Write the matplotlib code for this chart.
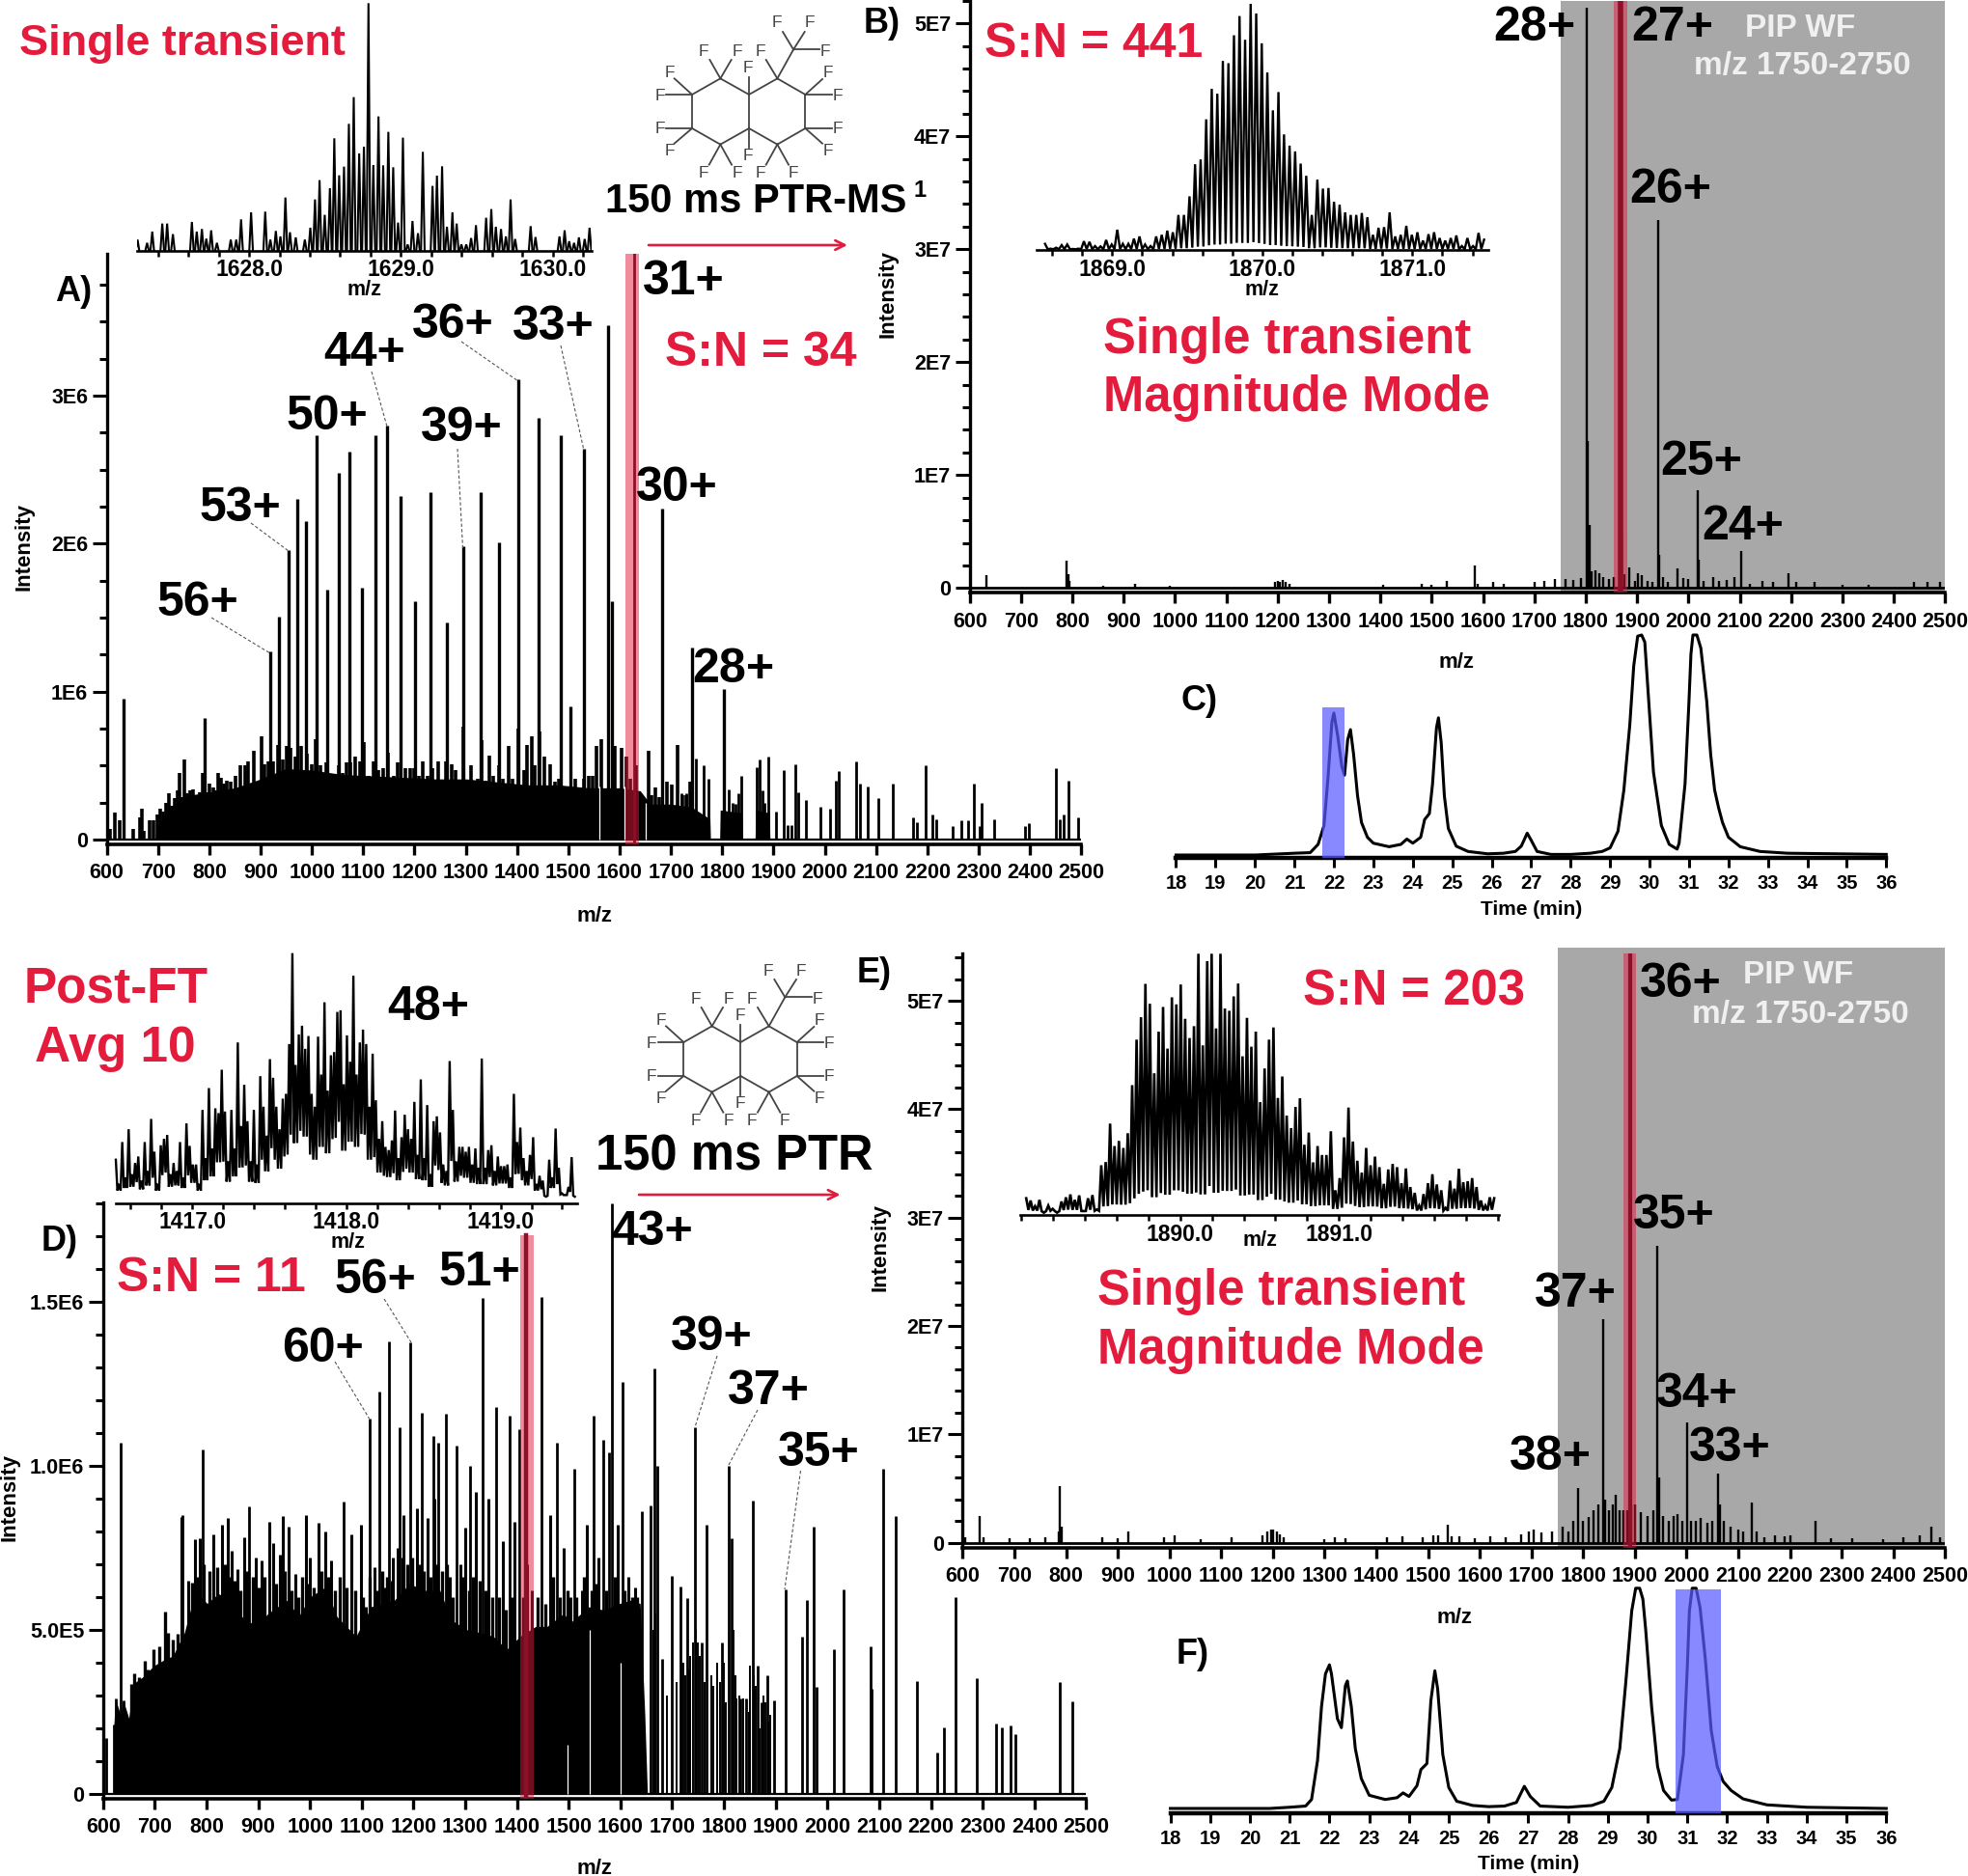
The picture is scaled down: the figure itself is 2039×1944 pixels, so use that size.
import numpy as np
import matplotlib
matplotlib.use('Agg')
import matplotlib.pyplot as plt

W, H = 2040, 1944
plt.rcParams['font.family'] = ['Liberation Sans', 'DejaVu Sans']
plt.rcParams['font.weight'] = 'bold'

RED = '#E31B3C'
BLUE = '#5a5aff'
GREY = '#A8A8A9'

# panel A, intensity in 1E6
peaks_a = [(632, .95), (791, .82), (919.5, 1.27), (935, 1.51), (954, 1.96), (971, 2.30), (989, 2.15), (1009, 2.73),
           (1030, 1.69), (1052, 2.48), (1074, 2.62), (1098, 1.70), (1123, 2.73), (1147, 2.80), (1173, 2.32),
           (1201, 1.61), (1232, 2.35), (1263, 1.47), (1295, 1.98), (1329.5, 2.35), (1365, 2.01), (1403, 3.11),
           (1442, 2.85), (1485, 2.73), (1504.5, .90), (1530, 2.64), (1577, 3.48), (1585, 1.61), (1683, 2.24),
           (1742, 1.30), (1803, 1.02)]
grass_a = [(606, .07), (616, .18), (625, .13), (651, .07), (664, .15), (668, .21), (673, .06), (684, .13), (692, .13),
           (699, .17), (705, .21), (710, .19), (716, .25), (721, .31), (727, .23), (732, .28), (738, .33), (741, .45),
           (745, .29), (751, .54), (757, .31), (763, .33), (769, .34), (776, .26), (782, .32), (787, .45), (796, .32),
           (801, .38), (807, .35), (812, .33), (817, .45), (823, .42), (829, .38), (835, .40), (842, .39), (851, .43),
           (857, .34), (861, .50), (869, .50), (876, .53), (886, .60), (892, .37), (901, .70), (907, .51), (915, .53),
           (924, .53), (933, .64), (943, .54), (950, .63), (959, .62), (968, .56), (979, .63), (991, .58), (1000, .51),
           (1008, .68), (1017, .50), (1028, .52), (1041, .44), (1052, .50), (1060, .45), (1067, .52), (1075, .52),
           (1085, .56), (1093, .53), (1101, .66), (1110, .43), (1120, .53), (1129, .47), (1138, .48), (1149, .59),
           (1159, .43), (1168, .52), (1182, .48), (1191, .48), (1200, .48), (1209, .43), (1217, .53), (1226, .43),
           (1235, .48), (1246, .53), (1253, .39), (1262, .53), (1272, .51), (1281, .47), (1296, .76), (1305, .34),
           (1311, .50), (1324, .41), (1331, .67), (1339, .40), (1346, .57), (1354, .43), (1365, .50), (1372, .41),
           (1383, .63), (1391, .41), (1402, .75), (1413, .47), (1420, .64), (1428, .70), (1435, .50), (1443, .73),
           (1454, .56), (1465, .51), (1473, .39), (1481, .41), (1493, .35), (1513, .41), (1521, .34), (1531, .41),
           (1540, .43), (1547, .43), (1554, .63), (1564, .68), (1590, .63), (1603, .62), (1613, .56), (1621, .41),
           (1632, .50), (1644, .27), (1651, .18), (1656, .60), (1662, .30), (1670, .35), (1677, .29), (1692, .39),
           (1702, .37), (1712, .64), (1722, .30), (1729, .30), (1737, .39)]
tail_a = [(1720, .31), (1729, .31), (1748.6, .55), (1763.5, .50), (1773, .41), (1812, .34), (1820, .25), (1826, .24),
          (1832, .31), (1838, .43), (1867, .49), (1872, .54), (1878, .33), (1883, .25), (1890, .56), (1904, .19),
          (1919, .47), (1927, .10), (1935, .10), (1943, .51), (1948, .32), (1963.6, .27), (1991.5, .22), (2009.6, .21),
          (2020.6, .40), (2027.7, .46), (2060.8, .53), (2068, .38), (2083, .36), (2104, .28), (2133, .38), (2171.5, .15),
          (2178.7, .12), (2196.8, .50), (2210.4, .17), (2217, .14), (2249, .09), (2265.5, .13), (2278.4, .13), (2291, .38),
          (2301.7, .09), (2306, .25), (2330, .14), (2390, .09), (2397.6, .11), (2451, .48), (2457.8, .14), (2466, .17),
          (2474.7, .40), (2494.7, .15)]
floor_a = [(695, 0), (696, .07), (710, .15), (730, .24), (760, .3), (800, .32), (850, .35), (900, .41), (950, .48),
           (1000, .47), (1060, .44), (1120, .43), (1180, .42), (1240, .41), (1300, .41), (1360, .39), (1420, .37),
           (1480, .37), (1540, .35), (1600, .35), (1640, .33), (1660, .24), (1700, .24), (1740, .22), (1776, .14),
           (1777, 0), (1795, 0), (1796, .2), (1838, .18), (1840, 0), (1864, 0), (1865, .2), (1892, .18), (1893, 0)]
gaps_a = [(1560, .36), (1609, .36), (1650, .25)]

# panel D, intensity in 1E6
peaks_d = [(606, .17), (621, .21), (624, .29), (634, 1.07), (639, .285), (753, .85), (792, 1.05), (883, .875),
           (1065, .89), (1115.7, 1.145), (1134, 1.227), (1153, 1.38), (1174, 1.117), (1194.5, 1.377), (1216, 1.16),
           (1238, 1.09), (1248, 1.07), (1262, 1.157), (1284, 1.06), (1310, 1.0), (1334, 1.51), (1359, 1.18),
           (1386, 1.153), (1404, 1.11), (1447, 1.515), (1477, 1.07), (1511, .99), (1547.5, 1.153), (1566, 1.08),
           (1578, 1.04), (1584, 1.80), (1604.5, 1.254), (1641, .86), (1659, .88), (1665, 1.296), (1671, 1.0),
           (1680, .41), (1700, .664), (1715, .633), (1729, .596), (1744, 1.117), (1757, .46), (1767, .82), (1796, .46),
           (1809, 1.0), (1814, .78), (1832, .29), (1842, .29), (1855.6, .894), (1866, .39), (1872, .28), (1883, .36),
           (1897, .285), (1919, .623), (1950, .48), (1960, .59), (1973.5, .815), (1978, .325), (2013, .44),
           (2031.5, .623), (2082.5, .45), (2085, .32), (2107, .99), (2132.5, .846), (2172, .344), (2212, .126),
           (2224.5, .203), (2247.5, .6), (2289, .353), (2325, .214), (2337, .203), (2353.4, .207), (2363, .183),
           (2448.4, .34), (2473, .283)]
grass_d = [(752, .845), (764.5, .65), (777.7, .776), (786.6, .78), (812.4, .79), (829.4, .82), (840.4, .84),
           (849.3, .74), (858.9, .686), (872.9, .783), (895.8, .72), (906.8, .712), (921.5, .83), (929, .765),
           (941.5, .73), (946.6, .847), (959, .814), (971, .67), (991.6, .85), (1000.4, .72), (1016.7, .826),
           (1030, .80), (1041, .71), (1079.3, .79), (1098, .82), (1108, .57), (1125, .69), (1143, .63), (1161, .72),
           (1170, .75), (1181, .85), (1206, .87), (1227, .84), (1240, .90), (1270, .66), (1290, .70), (1300, .81),
           (1320, .92), (1345, .90), (1372, .77), (1395, .83), (1420, .70), (1428, .62), (1465, .85), (1490, .75),
           (1503, .60), (1525, .62), (1535, .82), (1558, .72), (1595, .82), (1615, .66), (1628, .63)]
tail_d = [(1722, .40), (1735, .42), (1741, .46), (1750, .46), (1780, .33), (1787, .40), (1803, .28), (1825, .29),
          (1850, .39), (1858, .36), (1862, .33), (1877, .30), (1890, .24), (1664, .5), (1668, .55), (1690, .3),
          (1708, .34), (1718, .4), (1726, .36), (1733, .38), (1746, .5), (1753, .42), (1763, .34), (1775, .36),
          (1792, .34), (1800, .4), (1818, .5), (1822, .36), (1829, .3), (1838, .29), (1848, .25), (1869, .2),
          (1880, .28), (1886, .22)]
fill_d = [(655, .335), (661, .367), (670, .355), (680, .406), (687, .38), (698, .44), (709, .45), (720, .556), (726, .49),
          (735, .47), (744, .487), (772, .644), (782, .66), (795, .7), (805, .68), (820, .69), (835, .7), (845, .66),
          (854, .65), (865, .62), (878, .68), (890, .66), (900, .63), (912, .66), (935, .64), (952, .68), (965, .62),
          (978, .60), (985, .66), (996, .64), (1008, .63), (1023, .68), (1035, .66), (1048, .62), (1058, .66),
          (1070, .63), (1088, .62), (1103, .6), (1115, .66), (1130, .62), (1140, .68), (1148, .66), (1158, .65),
          (1178, .72), (1188, .7), (1198, .72), (1212, .7), (1220, .68), (1233, .66), (1245, .7), (1255, .68),
          (1265, .7), (1276, .6), (1296, .66), (1307, .62), (1315, .66), (1328, .65), (1340, .62), (1352, .6),
          (1365, .6), (1378, .56), (1390, .6), (1412, .6), (1440, .6), (1455, .58), (1470, .66), (1483, .6),
          (1497, .62), (1515, .6), (1530, .66), (1545, .62), (1552, .64), (1572, .62), (1590, .66), (1608, .62),
          (1622, .6), (1632, .6)]
floor_d = [(620, 0), (621, .21), (624, .29), (634, .24), (639, .286), (650, .23), (658, .335), (676, .355), (698, .39),
           (720, .41), (735, .42), (757, .49), (779, .62), (801, .58), (823, .61), (846, .59), (868, .54), (897, .51),
           (919, .55), (956, .59), (978, .54), (1000, .6), (1030, .63), (1052, .54), (1089, .48), (1118, .57),
           (1163, .59), (1192, .64), (1222, .62), (1251, .62), (1273, .53), (1303, .50), (1332, .49), (1354, .48),
           (1380, .44), (1406, .48), (1436, .51), (1458, .51), (1491, .55), (1502, .52), (1539, .57), (1568, .56),
           (1598, .58), (1620, .59), (1638, .58), (1647, .24), (1652, 0)]
gaps_d = [(1497, .15), (1541, .5), (1601, .4)]

# panels B and E, intensity in 1E7
peaks_b = [(632.8, .115), (788.6, .245), (792, .12), (795, .06), (860, .02), (922, .04), (990, .02), (1195, .05),
           (1200, .06), (1205, .05), (1210, .07), (1215, .05), (1222, .04), (1405, .03), (1480, .04), (1500, .03),
           (1530, .06), (1583, .2), (1590, .04), (1620, .05), (1640, .04), (1700, .05), (1720, .06), (1740, .08),
           (1760, .08), (1775, .07), (1790, .09), (1801.5, 5.14), (1804, 1.3), (1807, .56), (1812, .15), (1818, .157),
           (1826, .13), (1834, .1), (1845, .08), (1855, .1), (1870, .47), (1875, .12), (1885, .18), (1895, .06),
           (1902, .13), (1910, .11), (1920, .06), (1930, .05), (1941, 3.26), (1943.7, .29), (1950, .1), (1960, .05),
           (1979, .17), (1990, .09), (2000, .08), (2017.5, .87), (2020, .25), (2030, .06), (2048, .1), (2060, .06),
           (2075, .07), (2090, .1), (2103.6, .33), (2120, .04), (2145, .06), (2165, .05), (2194, .13), (2210, .05),
           (2245, .05), (2300, .03), (2350, .03), (2440, .05), (2465, .05), (2490, .05)]
peaks_e = [(605, .05), (632.6, .25), (640, .05), (690, .04), (730, .04), (760, .05), (785, .1), (788.6, .52), (792, .15),
           (870, .05), (900, .04), (920, .1), (990, .05), (1010, .07), (1060, .03), (1120, .05), (1180, .07), (1190, .1),
           (1197, .12), (1201, .12), (1207, .1), (1213, .08), (1220, .05), (1300, .03), (1320, .05), (1340, .04),
           (1420, .05), (1450, .06), (1490, .05), (1510, .07), (1520, .07), (1539, .165), (1545, .06), (1560, .06),
           (1590, .04), (1620, .06), (1650, .05), (1680, .08), (1695, .1), (1705, .12), (1720, .09), (1740, .1),
           (1760, .15), (1772, .1), (1780, .2), (1790, .5), (1800, .2), (1810, .24), (1820, .3), (1830, .35),
           (1839, 2.06), (1842, .4), (1850, .3), (1857, .35), (1863.6, .44), (1870, .3), (1878, .3), (1885, .3),
           (1893, .35), (1900, .35), (1912, .28), (1925, .25), (1935, .3), (1943.6, 2.74), (1946, .6), (1955, .25),
           (1965, .2), (1975, .25), (1983, .26), (1992, .2), (2000.6, 1.11), (2008, .2), (2018, .2), (2028, .23),
           (2040, .18), (2050, .2), (2061.7, .64), (2065, .35), (2072, .2), (2085, .15), (2100, .12), (2110, .1),
           (2125.5, .37), (2135, .1), (2150, .05), (2170, .07), (2190, .06), (2200, .07), (2249, .2), (2280, .04),
           (2320, .04), (2380, .03), (2420, .05), (2450, .07), (2474, .15), (2490, .05)]

# insets, relative heights
inset_a = [(1627.265, 35), (1627.328, 25), (1627.362, 60), (1627.428, 85), (1627.460, 85), (1627.498, 52),
           (1627.623, 90), (1627.655, 60), (1627.689, 68), (1627.718, 38), (1627.750, 64), (1627.788, 25),
           (1627.879, 35), (1627.915, 35), (1627.947, 98), (1628.013, 120), (1628.106, 122), (1628.140, 35),
           (1628.176, 62), (1628.206, 45), (1628.239, 166), (1628.269, 58), (1628.307, 42), (1628.367, 35),
           (1628.403, 72), (1628.434, 160), (1628.464, 220), (1628.498, 112), (1628.532, 195), (1628.561, 350),
           (1628.593, 235), (1628.625, 262), (1628.657, 395), (1628.689, 478), (1628.725, 303), (1628.756, 324),
           (1628.786, 770), (1628.818, 267), (1628.852, 418), (1628.883, 266), (1628.917, 370), (1628.949, 260),
           (1628.981, 88), (1629.013, 352), (1629.044, 20), (1629.076, 93), (1629.112, 55), (1629.144, 308),
           (1629.208, 202), (1629.237, 234), (1629.271, 263), (1629.303, 75), (1629.339, 120), (1629.367, 85),
           (1629.398, 20), (1629.430, 20), (1629.462, 40), (1629.494, 80), (1629.561, 103), (1629.595, 130),
           (1629.625, 75), (1629.659, 68), (1629.691, 45), (1629.722, 160), (1629.752, 37), (1629.854, 77),
           (1629.886, 43), (1630.044, 45), (1630.078, 64), (1630.108, 30), (1630.140, 25), (1630.172, 42),
           (1630.210, 37), (1630.242, 72)]
inset_b = [20, 5, 8, 16, 18, 4, 5, 28, 26, 13, 12, 32, 18, 64, 20, 20, 36, 43, 18, 13, 43, 48, 61, 56,
           110, 110, 168, 268, 283, 408, 503, 488, 590, 583, 670, 730, 656, 768, 738, 645, 554, 436, 493, 361,
           326, 308, 270, 232, 110, 220, 192, 194, 151, 142, 118, 110, 110, 116, 103, 48, 70, 72, 118, 43, 48,
           76, 48, 56, 30, 50, 56, 38, 30, 38, 46, 13, 38, 13, 54, 33]
inset_d = [135, 60, 190, 80, 230, 90, 125, 145, 70, 190, 100, 262, 160, 60, 180, 200, 212, 90, 125, 100, 190, 80,
           248, 178, 120, 120, 60, 290, 140, 358, 170, 295, 280, 415, 285, 130, 290, 170, 500, 240, 368, 255, 130,
           290, 120, 395, 300, 210, 448, 390, 300, 230, 325, 340, 495, 778, 430, 525, 552, 480, 520, 340, 300, 518,
           400, 625, 350, 460, 470, 595, 600, 370, 522, 440, 708, 400, 500, 540, 495, 300, 465, 320, 200, 255, 175,
           165, 195, 288, 140, 205, 275, 230, 200, 315, 150, 385, 140, 305, 90, 255, 270, 220, 120, 100, 442, 290,
           130, 175, 175, 160, 175, 120, 170, 110, 450, 110, 165, 180, 100, 145, 115, 115, 120, 80, 340, 190, 235,
           140, 100, 150, 205, 60, 85, 70, 20, 135, 80, 232, 110, 30, 25, 50, 143, 20]
inset_e = [53, 46, 28, 48, 8, 30, 20, 8, 43, 56, 65, 48, 62, 13, 53, 63, 18,
           156, 166, 286, 216, 232, 210, 256, 406, 548, 618, 722, 660, 443, 573, 650, 520, 680, 658, 720, 613,
           553, 590, 816, 530, 793, 816, 583, 816, 645, 638, 683, 723, 496, 616, 526, 573, 353, 458, 548, 586,
           366, 433, 311, 272, 338, 365, 220, 258, 165, 216, 188, 188, 262, 78, 116, 243, 336, 230, 170, 133,
           210, 156, 183, 150, 98, 143, 160, 150, 100, 146, 88, 70, 30, 66, 100, 128, 96, 78, 23, 108,
           83, 145, 103, 106, 116, 88, 46, 30, 56, 53]

# chromatograms C and F
trace_c = [(18, 0), (20, 0), (21, 3), (21.4, 4), (21.6, 18), (21.75, 50), (21.85, 130), (21.95, 225), (22, 240),
           (22.1, 200), (22.2, 150), (22.27, 135), (22.35, 195), (22.42, 212), (22.5, 170), (22.6, 100), (22.7, 55),
           (22.85, 30), (23, 20), (23.4, 14), (23.7, 18), (23.85, 27), (24, 20), (24.2, 30), (24.3, 60), (24.42, 70),
           (24.5, 120), (24.6, 215), (24.65, 232), (24.72, 190), (24.8, 100), (24.9, 45), (25.1, 15), (25.4, 6),
           (25.9, 2), (26.3, 3), (26.6, 6), (26.75, 15), (26.9, 37), (27, 25), (27.15, 6), (27.5, 1), (28, 1),
           (28.5, 3), (28.8, 6), (29, 12), (29.2, 40), (29.35, 110), (29.5, 220), (29.6, 320), (29.7, 370), (29.8, 372),
           (29.88, 360), (29.95, 290), (30.1, 140), (30.3, 50), (30.5, 18), (30.7, 10), (30.75, 20), (30.9, 120),
           (31, 260), (31.05, 340), (31.1, 372), (31.2, 372), (31.3, 350), (31.45, 260), (31.55, 170), (31.65, 110),
           (31.75, 80), (31.85, 55), (32, 30), (32.3, 14), (32.8, 6), (33.5, 3), (36, 1)]
trace_f = [(18, 0), (20.5, 0), (21, 2), (21.4, 4), (21.55, 15), (21.7, 80), (21.8, 170), (21.9, 225), (22, 240),
           (22.05, 225), (22.2, 150), (22.3, 135), (22.4, 205), (22.45, 213), (22.55, 170), (22.65, 100), (22.8, 50),
           (23, 22), (23.4, 15), (23.7, 18), (23.85, 26), (24, 20), (24.2, 38), (24.3, 65), (24.45, 75), (24.55, 180),
           (24.65, 230), (24.72, 200), (24.85, 90), (25, 35), (25.2, 12), (25.6, 5), (26, 3), (26.4, 4), (26.7, 10),
           (26.9, 37), (27.05, 20), (27.3, 4), (28, 2), (28.6, 5), (28.9, 12), (29.1, 35), (29.3, 100), (29.45, 210),
           (29.6, 330), (29.7, 368), (29.8, 368), (29.88, 350), (29.95, 300), (30.1, 170), (30.25, 70), (30.4, 30),
           (30.6, 14), (30.75, 15), (30.9, 90), (31, 240), (31.05, 330), (31.12, 368), (31.22, 368), (31.32, 335),
           (31.45, 250), (31.6, 130), (31.75, 70), (31.9, 45), (32.1, 30), (32.4, 16), (33, 6), (34, 2), (36, 0)]

mz_ticks = list(range(600, 2501, 100))
time_ticks = list(range(18, 37))

# perfluorodecalin sketch, pixels of the copy next to panel D
ring_bonds = [((175, 300), (263, 250)), ((263, 250), (352, 300)), ((352, 300), (352, 405)), ((352, 405), (263, 455)),
              ((263, 455), (175, 405)), ((175, 405), (175, 300)), ((352, 300), (440, 250)), ((440, 250), (527, 300)),
              ((527, 300), (527, 405)), ((527, 405), (440, 455)), ((440, 455), (352, 405)), ((440, 250), (490, 160))]
f_bonds = [((490, 160), (457, 105)), ((490, 160), (525, 105)), ((490, 160), (572, 160)), ((440, 250), (405, 192)),
           ((352, 300), (352, 245)), ((263, 250), (230, 192)), ((263, 250), (297, 192)), ((175, 300), (120, 250)),
           ((175, 300), (95, 300)), ((175, 405), (95, 405)), ((175, 405), (120, 452)), ((263, 455), (228, 518)),
           ((263, 455), (298, 518)), ((352, 405), (352, 465)), ((440, 455), (405, 518)), ((440, 455), (475, 518)),
           ((527, 405), (580, 452)), ((527, 405), (610, 405)), ((527, 300), (610, 300)), ((527, 300), (580, 252))]
f_atoms = [(438, 78), (540, 78), (590, 165), (388, 165), (350, 218), (212, 165), (315, 165), (105, 232), (75, 303),
           (75, 405), (105, 475), (212, 545), (315, 545), (350, 490), (388, 545), (490, 545), (598, 475), (628, 405),
           (628, 303), (598, 232)]


def px_axes(fig, x0, x1, ytop, ybot, z=2):
    ax = fig.add_axes([x0 / W, 1 - ybot / H, (x1 - x0) / W, (ybot - ytop) / H], zorder=z)
    ax.patch.set_alpha(0)
    for s in ['top', 'right']:
        ax.spines[s].set_visible(False)
    return ax


def spectrum_axes(fig, x0, x1, ytop, yzero, scale, yticks, ylabels, minor):
    ybot = yzero + 5
    ax = px_axes(fig, x0, x1, ytop, ybot)
    ax.set_xlim(600, 2500)
    ax.set_ylim(-5 / scale, (yzero - ytop) / scale)
    ax.spines['left'].set_linewidth(2.4)
    ax.spines['bottom'].set_linewidth(2.6)
    ax.set_xticks(mz_ticks)
    ax.set_yticks(yticks)
    ax.set_yticklabels(ylabels)
    ax.set_yticks(np.arange(0, (yzero - ytop) / scale, minor), minor=True)
    ax.tick_params(axis='x', length=8, width=2.4, labelsize=15.5, pad=6)
    ax.tick_params(axis='y', length=11, width=2.2, labelsize=15.5, pad=3)
    ax.tick_params(axis='y', which='minor', length=6, width=2.2)
    return ax


def sticks(ax, pairs, lw=2.0, color='k', z=3):
    mz, h = zip(*pairs)
    ax.vlines(mz, 0, h, color=color, lw=lw, zorder=z)


def floor(ax, pairs, gaps=()):
    mz, h = zip(*pairs)
    ax.fill_between(mz, 0, h, color='k', lw=0, zorder=3)
    for g, top in gaps:
        ax.vlines(g, 0, top, color='white', lw=0.9, zorder=3.5)


def band(ax, lo, hi, center, center_lw):
    ax.axvspan(lo, hi, color=RED, alpha=0.5, lw=0, zorder=5)
    ax.axvline(center, color='#8c1028', lw=center_lw, zorder=5.5)


def inset_axes(fig, x0, x1, ytop, ybot, xlim, ylim, majors):
    ax = px_axes(fig, x0, x1, ytop, ybot, z=4)
    ax.spines['left'].set_visible(False)
    ax.spines['bottom'].set_linewidth(1.9)
    ax.set_xlim(*xlim)
    ax.set_ylim(0, ylim)
    ax.set_yticks([])
    ax.set_xticks(majors)
    ax.set_xticklabels(['%.1f' % m for m in majors])
    lo = np.ceil(xlim[0] / 0.2) * 0.2
    ax.set_xticks(np.arange(lo, xlim[1], 0.2), minor=True)
    ax.tick_params(axis='x', which='both', length=4, width=1.8)
    ax.tick_params(axis='x', which='major', labelsize=16.5, pad=2)
    return ax


def profile(ax, start, step, h, frac, base, lw):
    h = np.array(h, dtype=float)
    mz = start + step * np.arange(len(h))
    x = np.empty(2 * len(h) - 1)
    y = np.empty(2 * len(h) - 1)
    x[0::2] = mz
    y[0::2] = h
    x[1::2] = (mz[:-1] + mz[1:]) / 2
    y[1::2] = np.minimum(h[:-1], h[1:]) * frac + base
    ax.plot(x, y, color='k', lw=lw, solid_joinstyle='miter', clip_on=False)


def peaked(ax, pairs, half, lw):
    for m, v in pairs:
        ax.plot([m - half, m, m + half], [0, v, 0], color='k', lw=lw, solid_joinstyle='miter')


def chrom_axes(fig, x0, x1, ytop, ybase, yaxis, top_value, trace, box_lo, box_hi, box_top):
    ax = px_axes(fig, x0, x1, ytop, yaxis)
    ax.spines['left'].set_visible(False)
    ax.spines['bottom'].set_linewidth(3.2)
    scale = (ybase - ytop) / top_value
    ax.set_xlim(18, 36)
    ax.set_ylim(-(yaxis - ybase) / scale, top_value)
    ax.set_yticks([])
    ax.set_xticks(time_ticks)
    ax.tick_params(axis='x', length=7, width=2.2, labelsize=14.5, pad=5)
    t, h = zip(*trace)
    ax.plot(t, h, color='k', lw=2.2, clip_on=False, zorder=3)
    ax.fill_between([box_lo, box_hi], ax.get_ylim()[0], box_top, color=BLUE, alpha=0.72, lw=0, zorder=4)
    return ax


def molecule(ax0, dx, dy):
    for a, b in ring_bonds + f_bonds:
        ax0.plot([a[0] / 3 + dx, b[0] / 3 + dx], [a[1] / 3 + dy, b[1] / 3 + dy], color='#444444', lw=1.3)
    for x, y in f_atoms:
        ax0.text(x / 3 + dx, y / 3 + dy, 'F', fontsize=12.5, color='#444444', fontweight='normal',
                 ha='center', va='center')


fig = plt.figure(figsize=(W / 100, H / 100), dpi=100)

# A
ax = spectrum_axes(fig, 110.6, 1120.3, 263, 870, 153.3, [0, 1, 2, 3], ['0', '1E6', '2E6', '3E6'], 0.25)
floor(ax, floor_a, gaps_a)
sticks(ax, grass_a, lw=2.6)
sticks(ax, tail_a, lw=2.0)
sticks(ax, peaks_a, lw=2.4)
ax.axhline(0, color='k', lw=1.6, zorder=3)
band(ax, 1612, 1637, 1628, 2.0)

# B
ax = spectrum_axes(fig, 1004.7, 2015.3, 0.5, 609.3, 117.0, [0, 1, 2, 3, 4, 5], ['0', '1E7', '2E7', '3E7', '4E7', '5E7'], 0.2)
ax.axvspan(1752, 2500, color=GREY, lw=0, zorder=1)
sticks(ax, peaks_b, lw=1.7)
ax.axhline(0, color='k', lw=2.0, zorder=3)
band(ax, 1854.6, 1881, 1868, 4.0)

# D
ax = spectrum_axes(fig, 106.7, 1125.4, 1246.4, 1858.8, 340.0, [0, .5, 1, 1.5], ['0', '5.0E5', '1.0E6', '1.5E6'], 0.1)
floor(ax, floor_d, gaps_d)
sticks(ax, fill_d, lw=2.4)
sticks(ax, grass_d, lw=2.2)
sticks(ax, tail_d, lw=1.4)
sticks(ax, peaks_d, lw=2.0)
ax.axhline(0, color='k', lw=1.6, zorder=3)
ax.axvspan(1405.7, 1432, ymax=0.945, color=RED, alpha=0.5, lw=0, zorder=5)
ax.axvline(1418, ymax=0.945, color='#8c1028', lw=3.2, zorder=5.5)

# E
ax = spectrum_axes(fig, 997.4, 2015.3, 988, 1598.6, 112.3, [0, 1, 2, 3, 4, 5], ['0', '1E7', '2E7', '3E7', '4E7', '5E7'], 0.2)
ax.axvspan(1751, 2500, ymax=1.01, color=GREY, lw=0, zorder=1, clip_on=False)
sticks(ax, peaks_e, lw=1.7)
ax.axhline(0, color='k', lw=2.0, zorder=3)
band(ax, 1877, 1903, 1890.5, 3.0)

# insets
ax = inset_axes(fig, 141.7, 613, 3.3, 260, (1627.26, 1630.256), 770, [1628, 1629, 1630])
peaked(ax, inset_a, 0.012, 1.5)
ax = inset_axes(fig, 1074.3, 1541.7, 3.3, 259.3, (1868.498, 1871.504), 770, [1869, 1870, 1871])
profile(ax, 1868.552, 1 / 27, inset_b, 0.03, 3, 1.7)
ax = inset_axes(fig, 120, 598.3, 987, 1246.7, (1416.503, 1419.499), 780, [1417, 1418, 1419])
profile(ax, 1416.503, 1 / 48, inset_d, 0.4, 15, 1.7)
ax = inset_axes(fig, 1057.3, 1553.3, 987, 1259.3, (1888.996, 1892.008), 820, [1890, 1891])
profile(ax, 1889.032, 1 / 36, inset_e, 0.1, 12, 1.9)

# chromatograms
chrom_axes(fig, 1218.5, 1954.3, 658, 886, 889, 372, trace_c, 21.7, 22.27, 250)
chrom_axes(fig, 1212.6, 1954.3, 1645.8, 1874, 1879, 368, trace_f, 30.7, 31.84, 366)

# overlay in reference pixels, all free labels
ax0 = fig.add_axes([0, 0, 1, 1], zorder=10)
ax0.set_xlim(0, W)
ax0.set_ylim(H, 0)
ax0.axis('off')


def big(x, y, s, size=36, color='k'):
    ax0.text(x - 1, y - 2, s, fontsize=size, color=color, ha='left', va='center_baseline')


def small(x, y, s, rot=0, size=16):
    ax0.text(x, y, s, fontsize=size, ha='center', va='center', rotation=rot)


for x, y, s in [(667, 289, '31+'), (428, 334, '36+'), (532, 336, '33+'), (336, 363, '44+'), (297, 429, '50+'),
                (437, 441, '39+'), (207, 524, '53+'), (163, 622, '56+'), (660, 503, '30+'), (718, 691, '28+'),
                (1548.5, 26, '28+'), (1691, 26, '27+'), (1689, 194, '26+'), (1721.6, 476, '25+'), (1763.8, 543, '24+'),
                (402, 1041, '48+'), (347, 1324, '56+'), (455.4, 1316, '51+'), (634, 1274, '43+'), (293, 1395, '60+'),
                (696, 1383, '39+'), (755, 1439, '37+'), (807, 1503, '35+'), (1700, 1016.6, '36+'), (1692.5, 1257, '35+'),
                (1590.7, 1337.7, '37+'), (1716.5, 1442, '34+'), (1750.7, 1498, '33+'), (1565, 1507, '38+')]:
    big(x, y, s)

big(21, 43, 'Single transient', 32.5, RED)
big(690, 363, 'S:N = 34', 36, RED)
big(1021.4, 43, 'S:N = 441', 36, RED)
big(1143.6, 349, 'Single transient', 36.5, RED)
big(1143.6, 409, 'Magnitude Mode', 36.5, RED)
big(26, 1021, 'Post-FT', 37, RED)
big(37, 1083, 'Avg 10', 37, RED)
big(122, 1322, 'S:N = 11', 36, RED)
big(1351, 1024.7, 'S:N = 203', 36.5, RED)
big(1137.7, 1334.6, 'Single transient', 36.5, RED)
big(1137.7, 1395.5, 'Magnitude Mode', 36.5, RED)

big(628, 206, '150 ms PTR-MS', 30)
big(948, 197, '1', 17)
big(618, 1195, '150 ms PTR', 36.5)

for x, y, s in [(58.5, 300, 'A)'), (896, 23, 'B)'), (1225, 724, 'C)'), (44, 1284, 'D)'), (889, 1006, 'E)'), (1220, 1712, 'F)')]:
    big(x, y, s, 26)

big(1809, 27.5, 'PIP WF', 24, '#F0F0F0')
big(1756.5, 67, 'm/z 1750-2750', 24, '#F0F0F0')
big(1806.7, 1009, 'PIP WF', 24, '#F0F0F0')
big(1754, 1049.5, 'm/z 1750-2750', 24, '#F0F0F0')

for x, y, s in [(615.5, 949, 'm/z'), (1509, 686, 'm/z'), (615.5, 1936, 'm/z'), (1507, 1676, 'm/z')]:
    small(x, y, s)
# inset labels sit just under the tick labels
for x, y, s in [(377, 301, 'm/z'), (1307, 300, 'm/z'), (360, 1287, 'm/z'), (1305.7, 1285, 'm/z')]:
    small(x, y, s, size=15.5)
small(1587, 942, 'Time (min)', size=15)
small(1583.4, 1931, 'Time (min)', size=15)
for x, y in [(25, 566), (919.6, 304), (10, 1551), (912, 1292)]:
    small(x, y, 'Intensity', rot=90)

for a, b in [((478, 354), (537, 395)), ((581, 358), (605, 467)), ((385, 385), (401, 442)), ((474, 465), (479.5, 568)),
             ((260, 542), (299, 571)), ((219, 640), (280, 677)), ((347, 1411), (382.6, 1470)), ((398, 1346), (426, 1391)),
             ((743, 1405), (720, 1479)), ((785, 1461), (755, 1518)), ((829.5, 1524), (813, 1647))]:
    ax0.plot([a[0], b[0]], [a[1], b[1]], color='#555555', lw=0.8, ls=(0, (3, 2)))

for x0, x1, y in [(672, 878, 254), (662, 870.5, 1238)]:
    ax0.annotate('', xy=(x1, y), xytext=(x0, y),
                 arrowprops=dict(arrowstyle='->,head_width=0.35,head_length=0.7', color=RED, lw=1.9, shrinkA=0, shrinkB=0))

molecule(ax0, 658.7, -2)
molecule(ax0, 650, 980)

fig.savefig('out.png', dpi=100)
